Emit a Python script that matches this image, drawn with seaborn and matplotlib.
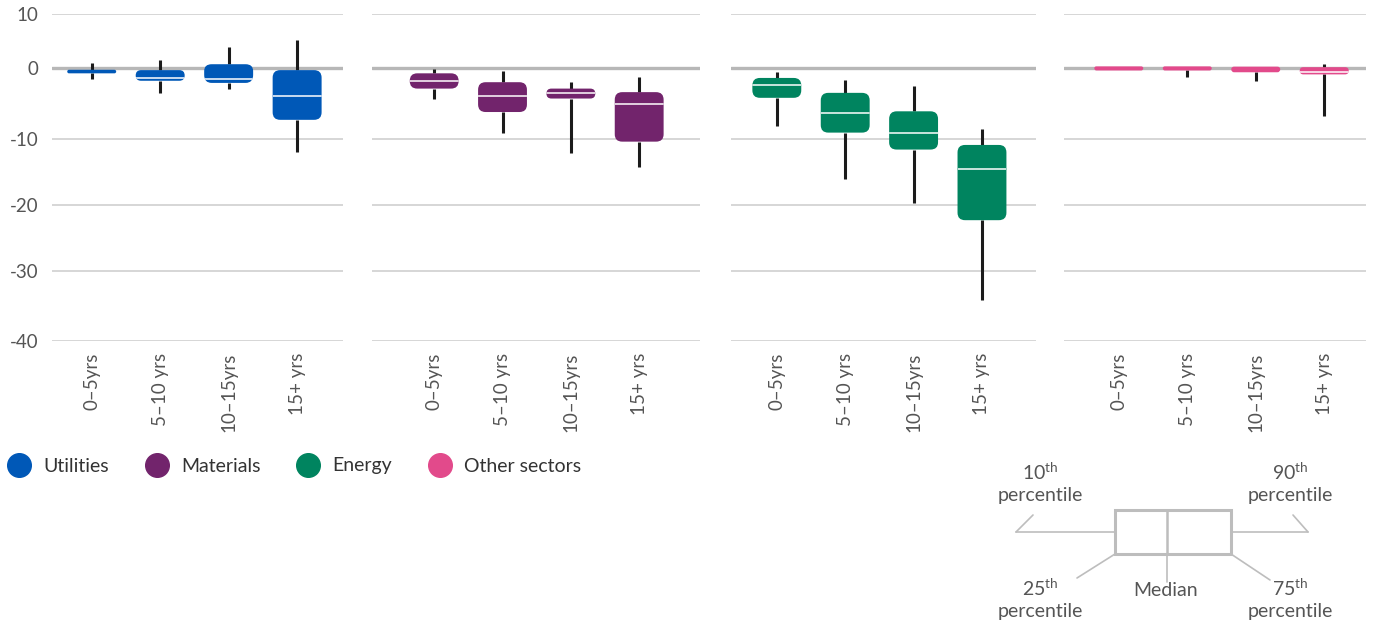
import numpy as np
import pandas as pd
import matplotlib
matplotlib.use("Agg")
import matplotlib.pyplot as plt
import matplotlib.colors as mcolors
import seaborn as sns
from matplotlib.patches import FancyBboxPatch, Rectangle
from matplotlib.lines import Line2D

# ---------------- data ----------------
categories = ["0–5yrs", "5–10 yrs", "10–15yrs", "15+ yrs"]
sectors = ["Utilities", "Materials", "Energy", "Other sectors"]
colors = ["#0058B7", "#72246C", "#00845F", "#E24A8B"]
y_ticks = [10, 0, -10, -20, -30, -40]
y_tick_labels = ["10", "0", "-10", "-20", "-30", "-40"]

# 10th / 25th / median / 75th / 90th percentiles per category
utilities_p10 = [-1.5, -3.5, -2.9, -12.0]
utilities_p25 = [-0.75, -1.8, -2.1, -7.3]
utilities_med = [-0.5, -1.4, -1.6, -3.9]
utilities_p75 = [-0.25, -0.3, 0.7, -0.3]
utilities_p90 = [0.9, 1.5, 3.9, 5.2]

materials_p10 = [-4.3, -9.1, -12.1, -14.3]
materials_p25 = [-2.9, -6.2, -4.3, -10.4]
materials_med = [-1.8, -3.9, -3.5, -5.0]
materials_p75 = [-0.75, -2.0, -2.9, -3.4]
materials_p90 = [-0.2, -0.4, -2.0, -1.2]

energy_p10 = [-8.1, -16.1, -19.7, -34.1]
energy_p25 = [-4.2, -9.1, -11.6, -22.3]
energy_med = [-2.4, -6.4, -9.2, -14.6]
energy_p75 = [-1.4, -3.5, -6.1, -10.9]
energy_p90 = [-0.6, -1.7, -2.5, -8.6]

other_p10 = [-0.35, -1.2, -1.8, -6.8]
other_p25 = [-0.35, -0.35, -0.6, -0.9]
other_med = [0.0, 0.0, -0.1, -0.5]
other_p75 = [0.3, 0.3, 0.25, 0.15]
other_p90 = [0.3, 0.3, 0.25, 0.7]

stats = {
    "Utilities": [utilities_p10, utilities_p25, utilities_med, utilities_p75, utilities_p90],
    "Materials": [materials_p10, materials_p25, materials_med, materials_p75, materials_p90],
    "Energy": [energy_p10, energy_p25, energy_med, energy_p75, energy_p90],
    "Other sectors": [other_p10, other_p25, other_med, other_p75, other_p90],
}

# long table: the five percentile values of each box (min/max = 10th/90th)
rows = []
for s in sectors:
    for stat_list in stats[s]:
        for cat, v in zip(categories, stat_list):
            rows.append({"sector": s, "category": cat, "value": v})
df = pd.DataFrame(rows)

# ---------------- style ----------------
sns.set_theme(style="white")
plt.rcParams["font.family"] = ["Lato", "DejaVu Sans"]
plt.rcParams["mathtext.fontset"] = "custom"
plt.rcParams["mathtext.rm"] = "Lato"
plt.rcParams["mathtext.it"] = "Lato"
plt.rcParams["mathtext.bf"] = "Lato"

W, H = 1375, 623
fig = plt.figure(figsize=(W / 100, H / 100), dpi=100)

# the original axis spaces its gridlines slightly unevenly; reproduce that
tick_vals = np.array([-40, -30, -20, -10, 0, 10], dtype=float)
tick_pos = np.array([0, 70, 136, 202, 273, 327], dtype=float)

def fwd(v):
    return np.interp(v, tick_vals, tick_pos)

def inv(u):
    return np.interp(u, tick_pos, tick_vals)

# panel geometry in pixels: (left, right) and x-limits
panels = [
    (52, 343, (-0.58, 3.67)),
    (372, 700, (-0.91, 3.89)),
    (731, 1036, (-0.67, 3.79)),
    (1064, 1366, (-0.80, 3.61)),
]
top_px, bot_px = 14, 341
ylim = (-40, 10)
tick_color = "#555555"
radius_px = 7.5

for i, (s, col, (x0, x1, xl)) in enumerate(zip(sectors, colors, panels)):
    ax = fig.add_axes([x0 / W, 1 - bot_px / H, (x1 - x0) / W, (bot_px - top_px) / H])
    ax.set_yscale("function", functions=(fwd, inv))
    sub = df[df["sector"] == s]
    sns.boxplot(
        data=sub, x="category", y="value", order=categories, ax=ax,
        color=col, saturation=1, width=0.715, whis=(0, 100),
        showcaps=False, fliersize=0, linewidth=0,
        boxprops=dict(edgecolor="none", linewidth=0),
        whiskerprops=dict(color="#1b1b1b", linewidth=2.2, zorder=1.5),
        medianprops=dict(color="white", linewidth=1.1, zorder=5),
    )
    ax.set_yscale("function", functions=(fwd, inv))
    ax.set_xlim(*xl)
    ax.set_ylim(*ylim)

    # rounded boxes replacing the square ones
    xpp = (xl[1] - xl[0]) / (x1 - x0)
    new_boxes = []
    for p in list(ax.patches):
        ext = p.get_path().get_extents()
        fc = p.get_facecolor()
        p.set_visible(False)
        w, h = ext.width, ext.height
        hp = max(fwd(ext.y1) - fwd(ext.y0), 1e-6)
        ypp = h / hp
        aspect = ypp / xpp
        r = min(radius_px * xpp, w / 2, (h / aspect) / 2)
        fb = FancyBboxPatch((ext.x0, ext.y0), w, h,
                            boxstyle=f"round,pad=0,rounding_size={r}",
                            mutation_aspect=aspect, facecolor=fc,
                            edgecolor="none", zorder=2)
        ax.add_patch(fb)
        new_boxes.append((ext.x0, ext.x1, hp, fb))

    # clip the white median lines to their rounded box; very flat boxes show none
    for ln in ax.lines:
        if mcolors.to_hex(ln.get_color()) == "#ffffff":
            xm = np.mean(ln.get_xdata())
            for bx0, bx1, hp, fb in new_boxes:
                if bx0 <= xm <= bx1:
                    ln.set_clip_path(fb)
                    if hp < 6:
                        ln.set_visible(False)

    for sp in ax.spines.values():
        sp.set_visible(False)
    ax.set_yticks(y_ticks)
    ax.yaxis.set_minor_locator(matplotlib.ticker.NullLocator())
    ax.grid(False)
    for t in y_ticks:
        if t == 0:
            ax.axhline(0, color="#b7b7b7", lw=2.4, zorder=0.6)
        else:
            ax.axhline(t, color="#d3d3d3", lw=1.3, zorder=0.5)
    if i == 0:
        ax.set_yticklabels(y_tick_labels)
    else:
        ax.set_yticklabels([])
    ax.tick_params(axis="y", which="both", length=0, pad=9.5, labelsize=13.5,
                   labelcolor=tick_color)
    ax.tick_params(axis="x", length=0, pad=8.5, labelsize=13.5, labelcolor=tick_color,
                   rotation=90)
    ax.set_xlabel("")
    ax.set_ylabel("")

# ---------------- legend ----------------
handles = [Line2D([0], [0], marker="o", linestyle="none", markersize=17,
                  markerfacecolor=c, markeredgecolor=c) for c in colors]
fig.legend(handles, sectors, loc="center left",
           bbox_to_anchor=(0.0055, 1 - 466 / H), ncol=4, frameon=False,
           fontsize=14, handlelength=1.2, handletextpad=0.65,
           columnspacing=1.85, borderpad=0, borderaxespad=0,
           labelcolor="#333333")

# ---------------- key diagram ----------------
key_col = "#bdbdbd"
def fx(px):
    return px / W
def fy(py):
    return 1 - py / H

def kline(xs, ys, lw=1.2):
    fig.add_artist(Line2D([fx(x) for x in xs], [fy(y) for y in ys],
                          color=key_col, lw=lw, transform=fig.transFigure))

fig.add_artist(Rectangle((fx(1115), fy(554)), fx(1231) - fx(1115), fy(510) - fy(554),
                         fill=False, edgecolor=key_col, lw=2.2,
                         transform=fig.transFigure))
kline([1167, 1167], [510, 554], lw=1.8)
kline([1016, 1115], [532, 532])
kline([1231, 1308], [532, 532])
kline([1016, 1033], [532, 515])
kline([1308, 1293], [532, 515])
kline([1115, 1077], [554, 578])
kline([1167, 1167], [554, 582])
kline([1231, 1270], [554, 580])

key_txt = "#555555"
def ktext(x, y, s):
    fig.text(fx(x), fy(y), s, ha="center", va="center", fontsize=14, color=key_txt)

ktext(1040, 472, r"10$^{\rm th}$")
ktext(1040, 495, "percentile")
ktext(1290, 472, r"90$^{\rm th}$")
ktext(1290, 495, "percentile")
ktext(1040, 588, r"25$^{\rm th}$")
ktext(1040, 611, "percentile")
ktext(1290, 588, r"75$^{\rm th}$")
ktext(1290, 611, "percentile")
ktext(1166, 591, "Median")

fig.savefig("out.png", dpi=100)
